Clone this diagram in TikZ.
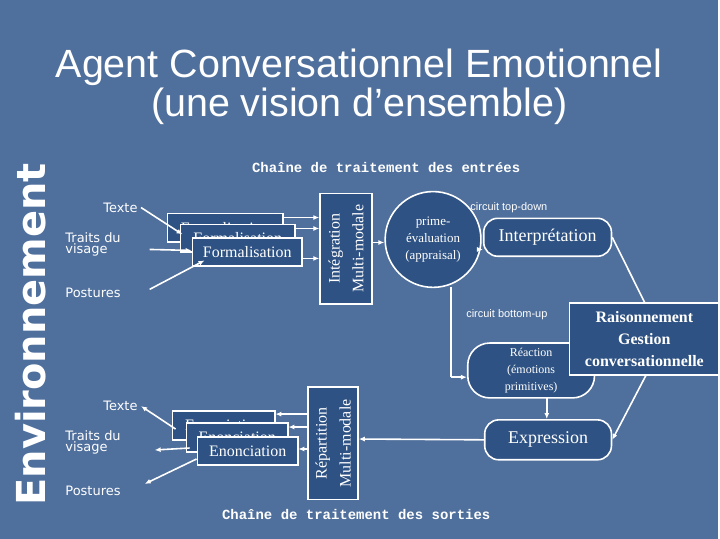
\documentclass[tikz,border=0pt]{standalone}
\usepackage{fontspec}
\setmainfont{Liberation Serif}
\newfontfamily\ver{DejaVu Sans}
\newfontfamily\ars{Liberation Sans}
\newfontfamily\mon{Liberation Mono}
\usetikzlibrary{arrows.meta}
\definecolor{bg}{HTML}{4F6F9C}
\definecolor{bx}{HTML}{2E5283}
\begin{document}
\begin{tikzpicture}[x=1pt,y=-1pt,
  box/.style={draw=white,line width=1.6pt,fill=bx,text=white,inner sep=0pt},
  rbox/.style={box,rounded corners=14pt},
  lab/.style={text=white,font=\ver\fontsize{13}{12}\selectfont,align=left,anchor=west},
  ln/.style={white,line width=1.6pt},
  ar/.style={ln,-{Latex[length=6pt,width=5pt]}}]
\fill[bg] (0,0) rectangle (720,540);
\node[text=white,font=\ars\fontsize{39.5}{40}\selectfont,align=center] (title) at (360,87) {Agent Conversationnel Emotionnel\\(une vision d’ensemble)};
\node[text=white,rotate=90,font=\ver\bfseries\fontsize{40}{40}\selectfont] (env) at (31,335) {Environnement};
\node[text=white,font=\mon\bfseries\fontsize{14}{14}\selectfont] (ce) at (387,168) {Chaîne de traitement des entrées};
\node[text=white,font=\mon\bfseries\fontsize{14}{14}\selectfont] (cs) at (357,516) {Chaîne de traitement des sorties};
% input
\node[lab] (t1) at (100,208) {Texte};
\node[lab,font=\ver\fontsize{13}{10}\selectfont] (v1) at (62,245) {Traits du\\visage};
\node[lab] (p1) at (62,294) {Postures};
\node[box,minimum width=116,minimum height=29,anchor=north west,font=\fontsize{16}{16}\selectfont] (f1) at (167,213) {Formalisation};
\node[box,minimum width=115,minimum height=28,anchor=north west,font=\fontsize{16}{16}\selectfont] (f2) at (180,224) {Formalisation};
\node[box,minimum width=110,minimum height=28,anchor=north west,font=\fontsize{16}{16}\selectfont] (f3) at (192,238) {Formalisation};
\node[box,minimum width=52,minimum height=111,anchor=north west] (int) at (320,193) {};
\node[text=white,rotate=90,align=center,font=\fontsize{16}{24}\selectfont] (intt) at (int.center) {Intégration\\Multi-modale};
\draw[ar] (t1.east) -- (183,235);
\draw[ar] (150,250) -- (192,251);
\draw[ar] (150,290) -- (205,261);
\draw[ar] (283,218) -- (int.west |- 0,218);
\draw[ar] (295,229) -- (int.west |- 0,229);
\draw[ar] (302,259) -- (int.west |- 0,259);
\node[box,circle,minimum size=96,align=center,font=\fontsize{13}{17}\selectfont] (pe) at (434,240) {prime-\\évaluation\\(appraisal)};
\draw[ar] (int.east |- 0,243) -- (pe.west |- 0,243);
\node[text=white,font=\ars\fontsize{11}{11}\selectfont] (ctd) at (510,208) {circuit top-down};
\node[rbox,minimum width=128,minimum height=38,anchor=north west,font=\fontsize{18}{18}\selectfont] (interp) at (484,218) {Interprétation};
\draw[ar] (480,250) -- (interp.west |- 0,250);
\node[text=white,font=\ars\fontsize{11}{11}\selectfont] (cbu) at (508,315) {circuit bottom-up};
\node[rbox,rounded corners=22pt,minimum width=127,minimum height=55,anchor=north west,align=center,font=\fontsize{12}{17}\selectfont] (rea) at (468,343) {Réaction\\(émotions\\primitives)};
\draw[ln] (452,288) -- (452,378);
\draw[ar] (452,378) -- (rea.west |- 0,378);
\node[box,minimum width=150,minimum height=72,anchor=north west,align=center,font=\bfseries\fontsize{16}{22}\selectfont] (rais) at (570,303) {Raisonnement\\Gestion\\conversationnelle};
\node[rbox,minimum width=127,minimum height=40,anchor=north west,font=\fontsize{18}{18}\selectfont] (expr) at (485,420) {Expression};
\draw[ln] (interp.east) -- (646,303);
\draw[ar] (648,375) -- (expr.east);
\draw[ar] (548,398) -- (expr.north -| 548,0);
% output
\node[box,minimum width=50,minimum height=113,anchor=north west] (rep) at (308,387) {};
\node[text=white,rotate=90,align=center,font=\fontsize{16}{24}\selectfont] (rept) at (rep.center) {Répartition\\Multi-modale};
\draw[ar] (expr.west) -- (rep.east |- 0,440);
\node[box,minimum width=103,minimum height=29,anchor=north west,font=\fontsize{16}{16}\selectfont] (e1) at (172,411) {Enonciation};
\node[box,minimum width=102,minimum height=29,anchor=north west,font=\fontsize{16}{16}\selectfont] (e2) at (186,423) {Enonciation};
\node[box,minimum width=101,minimum height=28,anchor=north west,font=\fontsize{16}{16}\selectfont] (e3) at (197,437) {Enonciation};
\draw[ar] (rep.west |- 0,415) -- (276,415);
\draw[ar] (rep.west |- 0,428) -- (289,428);
\draw[ar] (rep.west |- 0,450) -- (299,450);
\node[lab] (t2) at (100,407) {Texte};
\node[lab,font=\ver\fontsize{13}{10}\selectfont] (v2) at (62,443) {Traits du\\visage};
\node[lab] (p2) at (62,492) {Postures};
\draw[ar] (176,430) -- (t2.east);
\draw[ar] (190,449) -- (155,451);
\draw[ar] (197,460) -- (145,485);
\end{tikzpicture}
\end{document}
